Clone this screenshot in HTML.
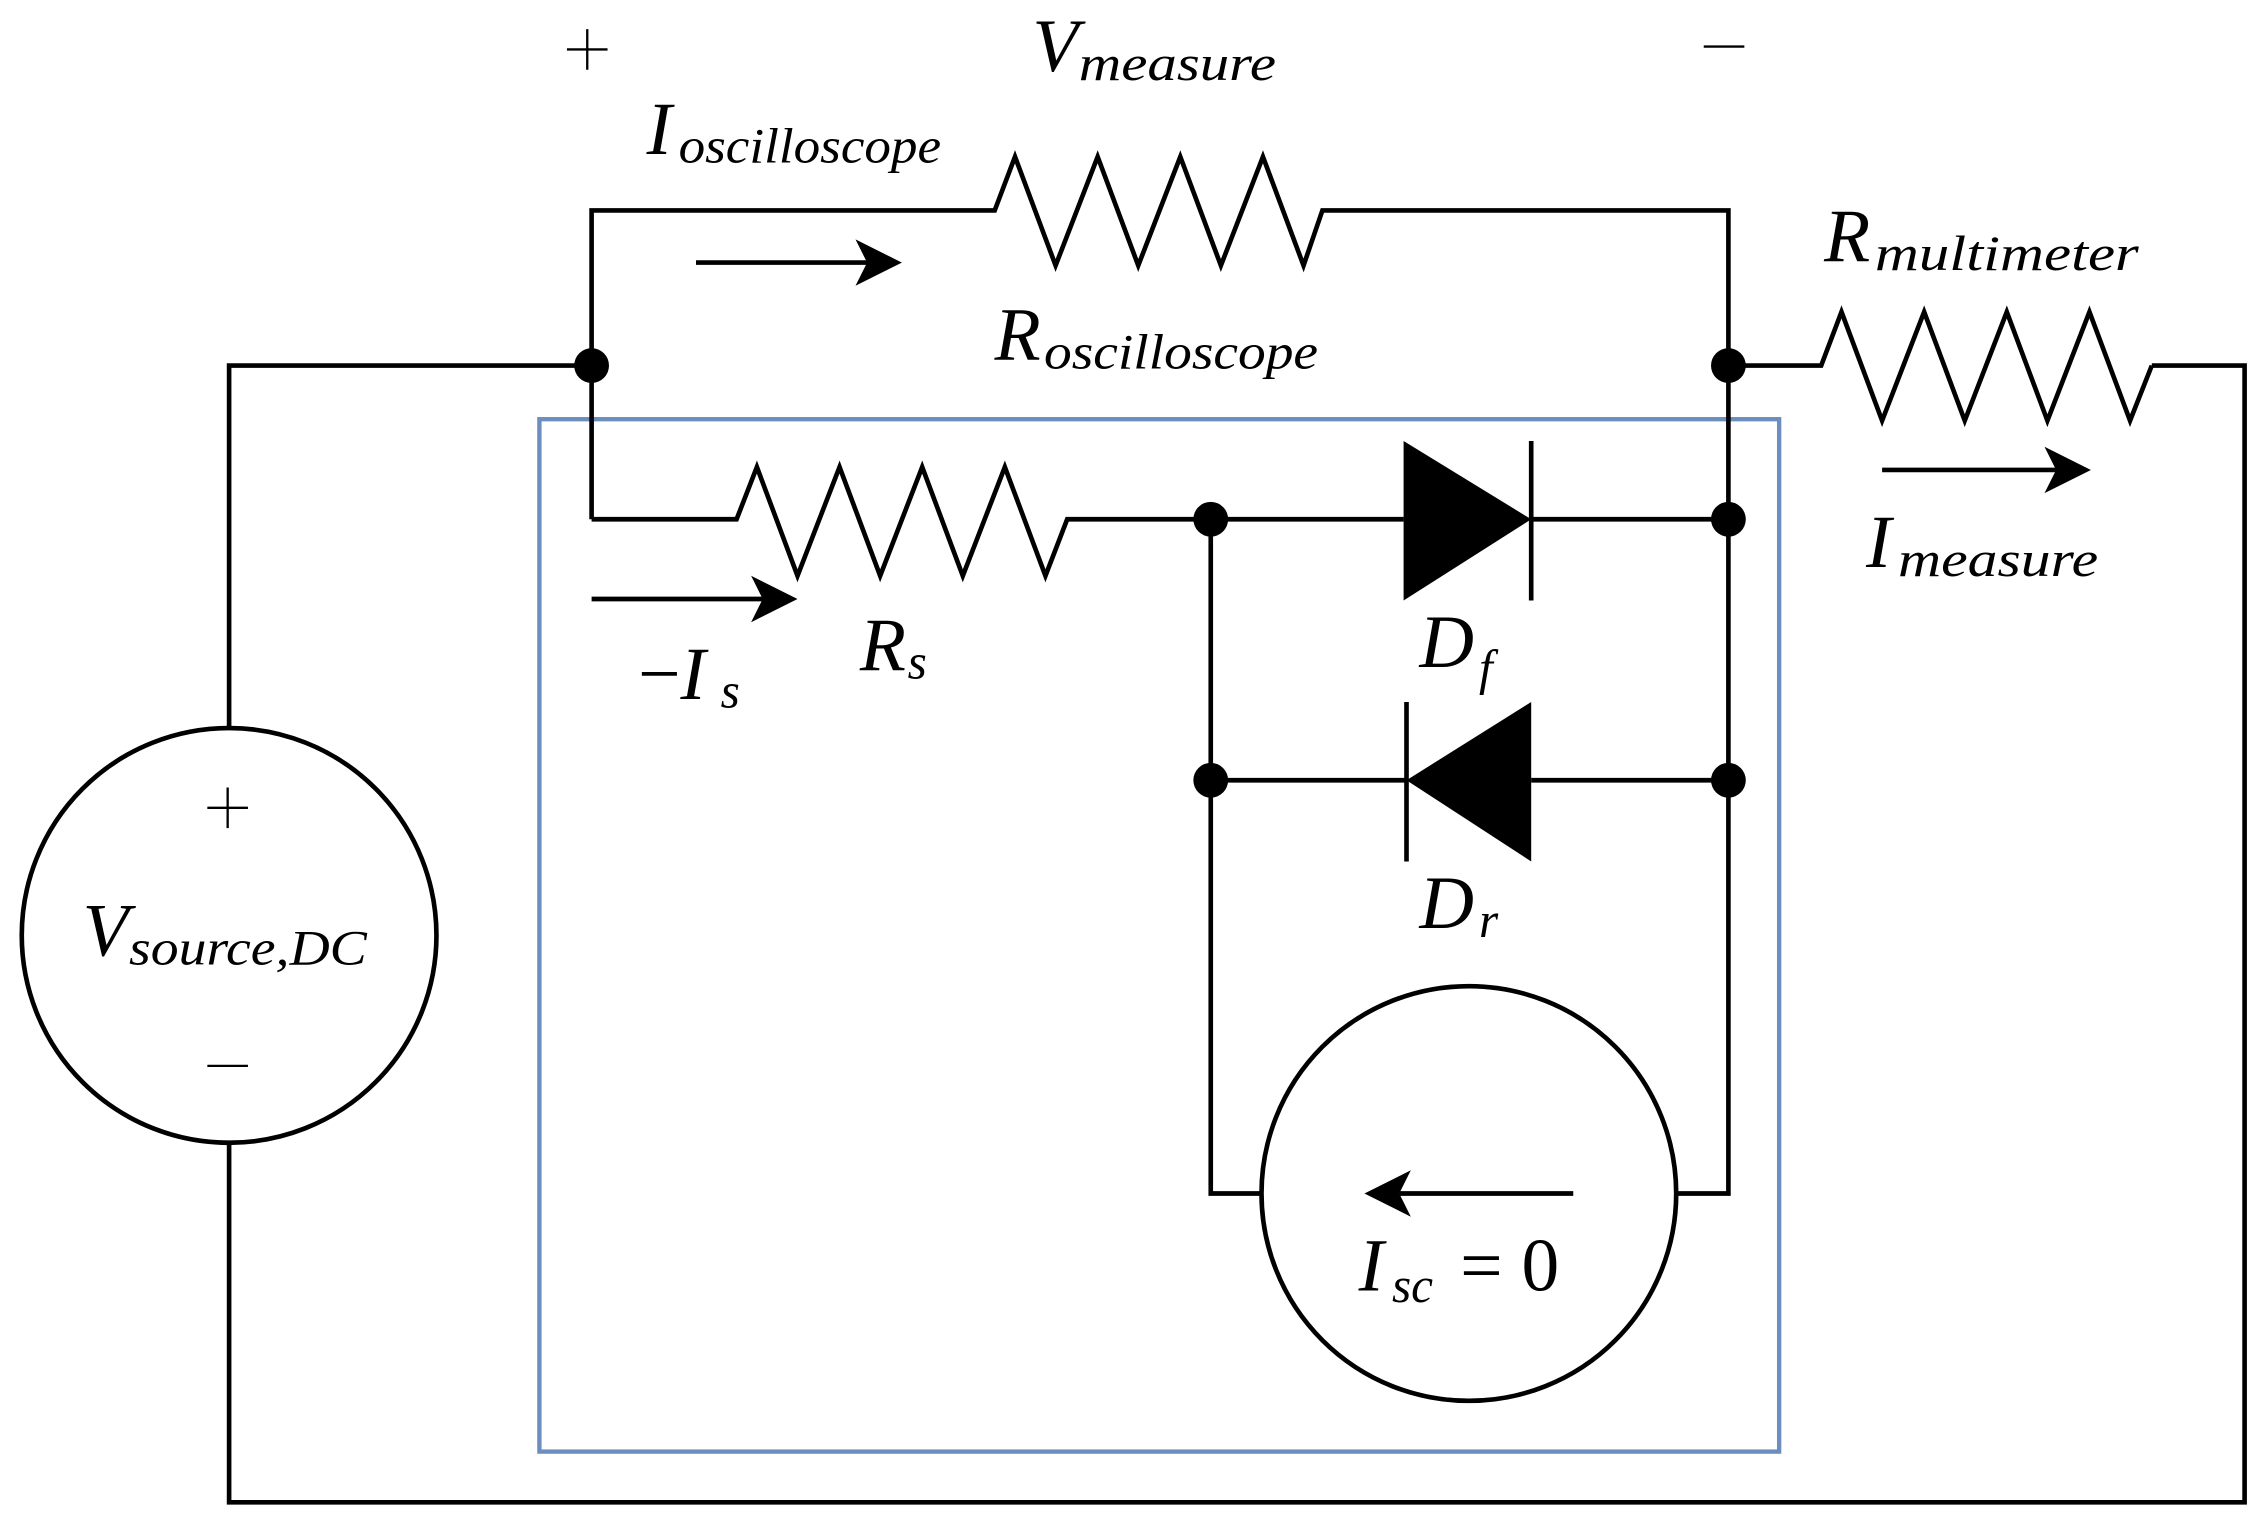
<!DOCTYPE html>
<html><head><meta charset="utf-8"><style>html,body{margin:0;padding:0;background:#fff}svg{display:block}</style></head>
<body>
<svg width="2262" height="1517" viewBox="0 0 1560 1046" xmlns="http://www.w3.org/2000/svg">
<rect width="1560" height="1046" fill="#fff"/>
<rect x="372" y="289" width="855" height="712" fill="none" stroke="#6c8ebf" stroke-width="3"/>
<g fill="none" stroke="#000" stroke-width="3.2" stroke-linejoin="miter">
<polyline points="158,502 158,252 408,252"/>
<polyline points="158,788 158,1036 1548,1036 1548,252 1484,252"/>
<polyline points="1192,252 1256,252 1270,215 1298,290 1327,215 1355,290 1384,215 1412,290 1441,215 1469,290 1484,252"/>
<polyline points="408,358 408,145 686,145 700,108 728,183 757,108 785,183 814,108 842,183 871,108 899,183 912,145 1192,145 1192,823 1156,823"/>
<polyline points="408,358 508,358 522,322 550,397 579,322 607,397 636,322 664,397 693,322 721,397 736,358 968,358"/>
<line x1="1056" y1="358" x2="1192" y2="358"/>
<line x1="1056" y1="304" x2="1056" y2="414"/>
<line x1="835" y1="538" x2="970" y2="538"/>
<line x1="1056" y1="538" x2="1192" y2="538"/>
<line x1="970" y1="484" x2="970" y2="594"/>
<polyline points="835,358 835,823 870,823"/>
<circle cx="158" cy="645" r="143"/>
<circle cx="1013" cy="823" r="143"/>
<line x1="480" y1="181" x2="600" y2="181"/>
<line x1="408" y1="413" x2="528" y2="413"/>
<line x1="1298" y1="324" x2="1420" y2="324"/>
<line x1="1085" y1="823" x2="965" y2="823"/>
</g>
<g stroke="#000" stroke-width="1.6" fill="none">
<line x1="391" y1="34" x2="419" y2="34"/><line x1="405" y1="20" x2="405" y2="48"/>
<line x1="1175" y1="32" x2="1203" y2="32"/>
<line x1="143" y1="557" x2="171" y2="557"/><line x1="157" y1="543" x2="157" y2="571"/>
<line x1="143" y1="735" x2="171" y2="735"/>
</g>
<g fill="#000">
<polygon points="968,304 968,414 1056,358"/>
<polygon points="1056,484 1056,594 970,538"/>
<circle cx="408" cy="252" r="12"/><circle cx="1192" cy="252" r="12"/>
<circle cx="835" cy="358" r="12"/><circle cx="1192" cy="358" r="12"/>
<circle cx="835" cy="538" r="12"/><circle cx="1192" cy="538" r="12"/>
<polygon points="622,181 590,165 598,181 590,197"/>
<polygon points="550,413 518,397 526,413 518,429"/>
<polygon points="1442,324 1410,308 1418,324 1410,340"/>
<polygon points="941,823 973,807 965,823 973,839"/>
</g>
<g font-family="Liberation Serif, DejaVu Serif, serif" fill="#000">
<g font-style="italic">
<text x="712" y="49" font-size="52">V</text><text x="744" y="55" font-size="34" textLength="136" lengthAdjust="spacingAndGlyphs">measure</text>
<text x="446" y="106" font-size="52">I</text><text x="468" y="112" font-size="34" textLength="181" lengthAdjust="spacingAndGlyphs">oscilloscope</text>
<text x="686" y="248" font-size="52">R</text><text x="720" y="254" font-size="34" textLength="189" lengthAdjust="spacingAndGlyphs">oscilloscope</text>
<text x="1258" y="180" font-size="52">R</text><text x="1293" y="186" font-size="34" textLength="182" lengthAdjust="spacingAndGlyphs">multimeter</text>
<text x="1287" y="391" font-size="52">I</text><text x="1309" y="397" font-size="34" textLength="138" lengthAdjust="spacingAndGlyphs">measure</text>
<text x="593" y="462" font-size="52">R</text><text x="626" y="468" font-size="34">s</text>
<text x="440" y="482" font-size="52"><tspan font-style="normal">−</tspan>I</text><text x="497" y="488" font-size="34">s</text>
<text x="979" y="460" font-size="52">D</text><text x="1020" y="472" font-size="34">f</text>
<text x="979" y="640" font-size="52">D</text><text x="1020" y="646" font-size="34">r</text>
<text x="57" y="659" font-size="52">V</text><text x="89" y="665" font-size="34" textLength="164" lengthAdjust="spacingAndGlyphs">source,DC</text>
<text x="937" y="890" font-size="52">I</text><text x="960" y="898" font-size="34">sc</text>
<text x="1007" y="890" font-size="52" font-style="normal">= 0</text>
</g>
</g>
</svg>
</body></html>
